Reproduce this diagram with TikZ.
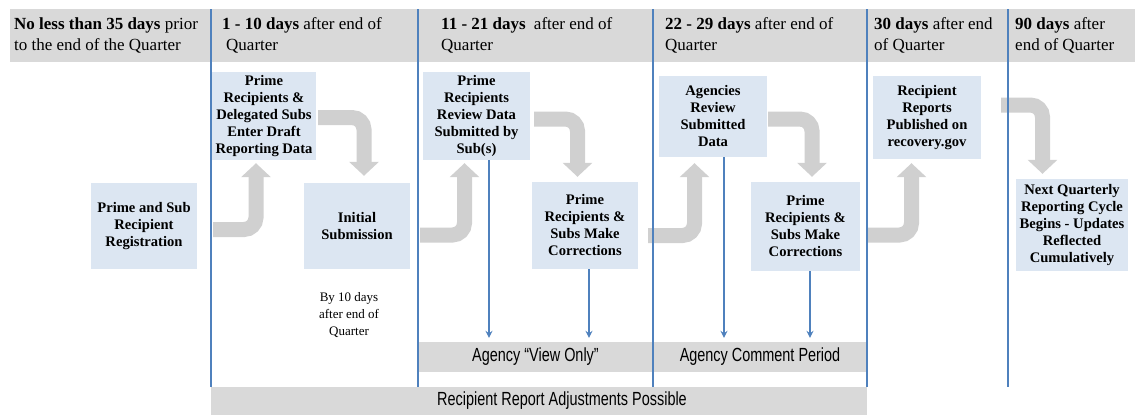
\documentclass[tikz,border=0pt]{standalone}
\usepackage{fontspec}
\usepackage{graphicx}
\setmainfont{Liberation Serif}
\newfontfamily\bandfont{Liberation Sans}
\usetikzlibrary{arrows.meta}
\definecolor{hdrgray}{RGB}{217,217,217}
\definecolor{boxblue}{RGB}{220,230,242}
\definecolor{linblue}{RGB}{79,129,189}
\definecolor{arrgray}{RGB}{208,208,208}
\def\bandtxt#1{\scalebox{0.76}[1]{\bandfont\fontsize{19}{19}\selectfont #1}}

\begin{document}
\begin{tikzpicture}[x=1pt, y=-1pt,
		stepbox/.style={fill=boxblue, align=center, inner sep=1pt, font=\bfseries\fontsize{14.6}{17}\selectfont},
		hdr/.style={anchor=west, align=left, inner sep=0pt, font=\fontsize{17}{21}\selectfont},
		band/.style={fill=hdrgray, inner sep=0pt},
		sepline/.style={draw=linblue, line width=1.6},
		turnarrow/.style={draw=arrgray, line width=15, rounded corners=12, -{Triangle[width=29pt,length=14pt]}},
		viewarrow/.style={draw=linblue, line width=1.2, shorten >=4pt, -{Stealth[length=7pt,width=7pt,inset=2.5pt]}}]
		%%%%% START %%%%%
		
		\useasboundingbox (0,0) rectangle (1135,415);
		
		\fill[hdrgray] (10,9) rectangle (1135,62);
		\node[hdr] (h1) at (14,35) {\textbf{No less than 35 days} prior\\to the end of the Quarter};
		\node[hdr] (h2) at (222,35) {\textbf{1 - 10 days} after end of\\\hspace{4pt}Quarter};
		\node[hdr] (h3) at (441,35) {\textbf{11 - 21 days}\hspace{4pt} after end of\\Quarter};
		\node[hdr] (h4) at (665,35) {\textbf{22 - 29 days} after end of\\Quarter};
		\node[hdr] (h5) at (874,35) {\textbf{30 days} after end\\of Quarter};
		\node[hdr] (h6) at (1015,35) {\textbf{90 days} after\\end of Quarter};
		
		\node[band, minimum width=235, minimum height=30] (viewonly) at (535.5,357) {\bandtxt{Agency “View Only”}};
		\node[band, minimum width=214, minimum height=30] (comment) at (760,357) {\bandtxt{Agency Comment Period}};
		\fill[hdrgray] (211,387) rectangle (867,415);
		\node[inner sep=0pt] (adjust) at (562,401) {\bandtxt{Recipient Report Adjustments Possible}};
		
		\node[stepbox, minimum width=106, minimum height=86] (reg) at (144,226) {Prime and Sub\\Recipient\\Registration};
		\node[stepbox, minimum width=104, minimum height=88] (draft) at (264,116) {Prime\\Recipients \&\\Delegated Subs\\Enter Draft\\Reporting Data};
		\node[stepbox, minimum width=106, minimum height=86] (init) at (357,226) {Initial\\Submission};
		\node[stepbox, minimum width=107, minimum height=88] (review) at (476.5,116) {Prime\\Recipients\\Review Data\\Submitted by\\Sub(s)};
		\node[stepbox, minimum width=106, minimum height=87] (corr1) at (585,225.5) {Prime\\Recipients \&\\Subs Make\\Corrections};
		\node[stepbox, minimum width=108, minimum height=81] (agencies) at (713,116.5) {Agencies\\Review\\Submitted\\Data};
		\node[stepbox, minimum width=109, minimum height=89] (corr2) at (805.5,226.5) {Prime\\Recipients \&\\Subs Make\\Corrections};
		\node[stepbox, minimum width=108, minimum height=83] (pub) at (927,117.5) {Recipient\\Reports\\Published on\\recovery.gov};
		\node[stepbox, minimum width=112, minimum height=92] (next) at (1072,225) {Next Quarterly\\Reporting Cycle\\Begins - Updates\\Reflected\\Cumulatively};
		
		\node[align=center, font=\fontsize{13}{17}\selectfont] (due) at (349,315) {By 10 days\\after end of\\Quarter};
		
		% grey turn arrows
		\coordinate (s1) at (213,229.5);
		\coordinate (s2) at (318,117.5);
		\coordinate (s3) at (420,235);
		\coordinate (s4) at (534,119);
		\coordinate (s5) at (648,235.5);
		\coordinate (s6) at (768,119);
		\coordinate (s7) at (866,235);
		\coordinate (s8) at (1001,105);
		\draw[turnarrow] (s1) -| ([xshift=-8,yshift=-3]draft.south);
		\draw[turnarrow] (s2) -| ([xshift=7,yshift=7]init.north);
		\draw[turnarrow] (s3) -| ([xshift=-12,yshift=-3]review.south);
		\draw[turnarrow] (s4) -| ([xshift=-7.5,yshift=5]corr1.north);
		\draw[turnarrow] (s5) -| ([xshift=-18.5,yshift=-6]agencies.south);
		\draw[turnarrow] (s6) -| ([xshift=6.5,yshift=5]corr2.north);
		\draw[turnarrow] (s7) -| ([xshift=-15.5,yshift=-4]pub.south);
		\draw[turnarrow] (s8) -| ([xshift=-29.5,yshift=5]next.north);
		
		\foreach \x in {211,418,653,867,1008}
			\draw[sepline] (\x,9) -- (\x,387);
		
		\draw[viewarrow] ([xshift=12.5]review.south) -- ([xshift=12.5]review.south |- viewonly.north);
		\draw[viewarrow] ([xshift=4]corr1.south) -- ([xshift=4]corr1.south |- viewonly.north);
		\draw[viewarrow] ([xshift=11]agencies.south) -- ([xshift=11]agencies.south |- comment.north);
		\draw[viewarrow] ([xshift=4.5]corr2.south) -- ([xshift=4.5]corr2.south |- comment.north);
		
		%%%%% END %%%%%
	\end{tikzpicture}
\end{document}
